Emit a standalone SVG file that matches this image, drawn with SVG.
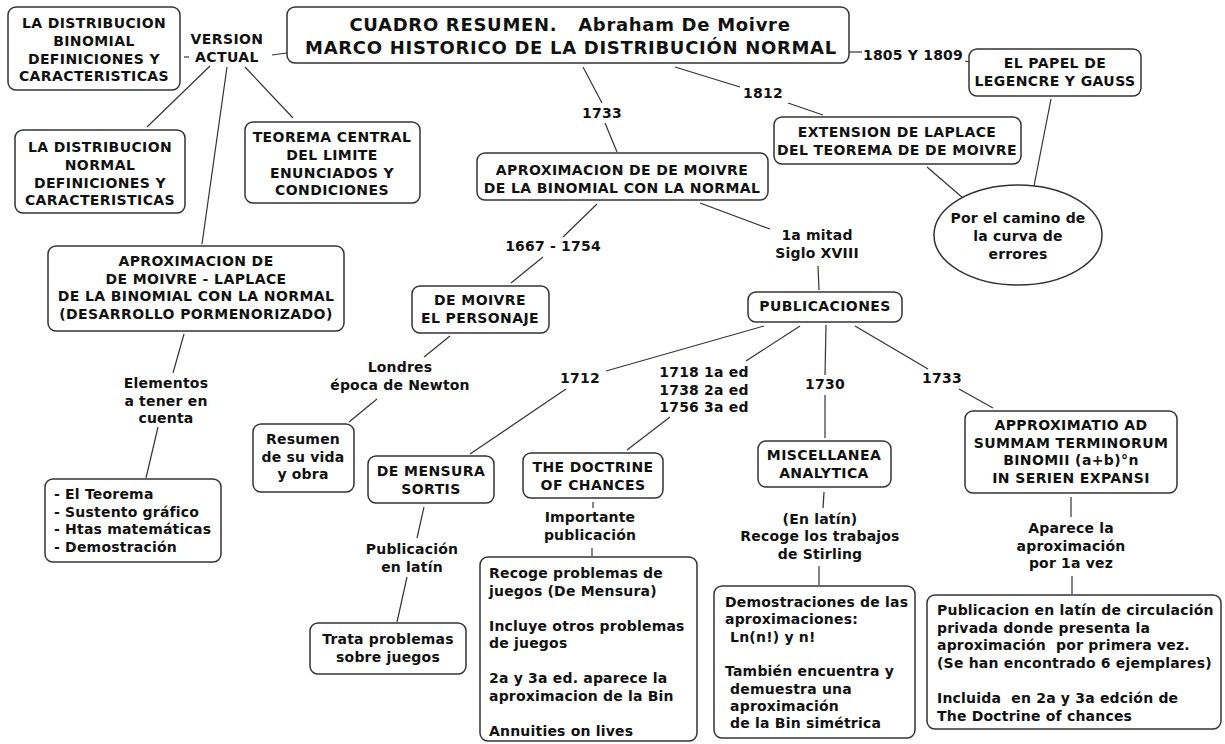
<svg xmlns="http://www.w3.org/2000/svg" width="1225" height="744" viewBox="0 0 1225 744">
<style>
.b{fill:#fff;stroke:#333;stroke-width:1.5}
.t{font-family:"DejaVu Sans",Verdana,sans-serif;font-weight:bold;font-size:14px;letter-spacing:0.2px;fill:#111;text-anchor:middle;white-space:pre}
.u{letter-spacing:0.4px}
.l{text-anchor:start}
.h{font-size:18px;letter-spacing:0.7px}
.c line{stroke:#333;stroke-width:1.2}
</style>
<rect width="1225" height="744" fill="#fff"/>
<g class="c" id="connectors">
<line x1="184" y1="57" x2="189" y2="57"/>
<line x1="272" y1="55" x2="287" y2="53"/>
<line x1="210" y1="66" x2="147" y2="127"/>
<line x1="245" y1="67" x2="293" y2="118"/>
<line x1="227" y1="67" x2="202" y2="244"/>
<line x1="583" y1="67" x2="602" y2="103"/>
<line x1="605" y1="123" x2="617" y2="152"/>
<line x1="675" y1="67" x2="740" y2="87"/>
<line x1="788" y1="103" x2="823" y2="115"/>
<line x1="849" y1="52" x2="862" y2="52"/>
<line x1="965" y1="61" x2="969" y2="62"/>
<line x1="1051" y1="99" x2="1034" y2="186"/>
<line x1="927" y1="167" x2="963" y2="198"/>
<line x1="700" y1="203" x2="770" y2="229"/>
<line x1="818" y1="266" x2="819" y2="290"/>
<line x1="597" y1="204" x2="563" y2="237"/>
<line x1="543" y1="257" x2="511" y2="283"/>
<line x1="450" y1="336" x2="424" y2="357"/>
<line x1="377" y1="399" x2="349" y2="422"/>
<line x1="764" y1="326" x2="606" y2="371"/>
<line x1="566" y1="389" x2="470" y2="454"/>
<line x1="800" y1="326" x2="746" y2="361"/>
<line x1="670" y1="417" x2="627" y2="450"/>
<line x1="826" y1="325" x2="825" y2="375"/>
<line x1="825" y1="395" x2="825" y2="438"/>
<line x1="855" y1="326" x2="928" y2="369"/>
<line x1="959" y1="389" x2="993" y2="408"/>
<line x1="593" y1="502" x2="593" y2="508"/>
<line x1="592" y1="548" x2="592" y2="556"/>
<line x1="424" y1="507" x2="417" y2="538"/>
<line x1="407" y1="577" x2="397" y2="622"/>
<line x1="824" y1="492" x2="823" y2="508"/>
<line x1="819" y1="566" x2="819" y2="585"/>
<line x1="1071" y1="497" x2="1071" y2="517"/>
<line x1="1072" y1="576" x2="1072" y2="594"/>
<line x1="184" y1="334" x2="173" y2="373"/>
<line x1="158" y1="427" x2="146" y2="478"/>
</g>
<g id="title"><rect class="b" x="287" y="7" width="562" height="56" rx="8"/>
<text class="t h" x="570" y="31">CUADRO RESUMEN.   Abraham De Moivre</text>
<text class="t h" x="571" y="54">MARCO HISTORICO DE LA DISTRIBUCIÓN NORMAL</text></g>
<g id="binomial"><rect class="b" x="8" y="7" width="172" height="83" rx="8"/>
<text class="t u" x="94" y="28"><tspan x="94">LA DISTRIBUCION</tspan><tspan x="94" dy="17.8">BINOMIAL</tspan><tspan x="94" dy="17.8">DEFINICIONES Y</tspan><tspan x="94" dy="17.8">CARACTERISTICAS</tspan></text></g>
<g id="version"><text class="t u" x="227" y="44"><tspan x="227">VERSION</tspan><tspan x="227" dy="18">ACTUAL</tspan></text></g>
<g id="normal"><rect class="b" x="15" y="130" width="170" height="83" rx="8"/>
<text class="t u" x="100" y="152"><tspan x="100">LA DISTRIBUCION</tspan><tspan x="100" dy="17.8">NORMAL</tspan><tspan x="100" dy="17.8">DEFINICIONES Y</tspan><tspan x="100" dy="17.8">CARACTERISTICAS</tspan></text></g>
<g id="teorema"><rect class="b" x="245" y="122" width="175" height="81" rx="8"/>
<text class="t u" x="332" y="142"><tspan x="332">TEOREMA CENTRAL</tspan><tspan x="332" dy="17.8">DEL LIMITE</tspan><tspan x="332" dy="17.8">ENUNCIADOS Y</tspan><tspan x="332" dy="17.8">CONDICIONES</tspan></text></g>
<g id="laplace"><rect class="b" x="48" y="246" width="296" height="85" rx="8"/>
<text class="t u" x="196" y="266"><tspan x="196">APROXIMACION DE</tspan><tspan x="196" dy="17.7">DE MOIVRE - LAPLACE</tspan><tspan x="196" dy="17.7">DE LA BINOMIAL CON LA NORMAL</tspan><tspan x="196" dy="17.7">(DESARROLLO PORMENORIZADO)</tspan></text></g>
<g id="elementos"><text class="t" x="166" y="388"><tspan x="166">Elementos</tspan><tspan x="166" dy="17.5">a tener en</tspan><tspan x="166" dy="17.5">cuenta</tspan></text></g>
<g id="lista"><rect class="b" x="45" y="479" width="176" height="83" rx="8"/>
<text class="t l" x="54" y="499"><tspan x="54">- El Teorema</tspan><tspan x="54" dy="17.6">- Sustento gráfico</tspan><tspan x="54" dy="17.6">- Htas matemáticas</tspan><tspan x="54" dy="17.6">- Demostración</tspan></text></g>
<g id="l1733a"><text class="t" x="602" y="118">1733</text></g>
<g id="aproxdm"><rect class="b" x="477" y="153" width="291" height="47" rx="8"/>
<text class="t u" x="622" y="175"><tspan x="622">APROXIMACION DE DE MOIVRE</tspan><tspan x="622" dy="17.5">DE LA BINOMIAL CON LA NORMAL</tspan></text></g>
<g id="l1812"><text class="t" x="763" y="98">1812</text></g>
<g id="extension"><rect class="b" x="774" y="117" width="247" height="47" rx="8"/>
<text class="t u" x="897" y="137"><tspan x="897">EXTENSION DE LAPLACE</tspan><tspan x="897" dy="17.5">DEL TEOREMA DE DE MOIVRE</tspan></text></g>
<g id="l1805"><text class="t" x="913" y="60">1805 Y 1809</text></g>
<g id="papel"><rect class="b" x="969" y="49" width="172" height="47" rx="8"/>
<text class="t u" x="1055" y="68"><tspan x="1055">EL PAPEL DE</tspan><tspan x="1055" dy="17.5">LEGENCRE Y GAUSS</tspan></text></g>
<g id="camino"><ellipse class="b" cx="1018" cy="235" rx="84" ry="50"/>
<text class="t" x="1018" y="223"><tspan x="1018">Por el camino de</tspan><tspan x="1018" dy="18">la curva de</tspan><tspan x="1018" dy="17.5">errores</tspan></text></g>
<g id="mitad"><text class="t" x="817" y="240"><tspan x="817">1a mitad</tspan><tspan x="817" dy="18">Siglo XVIII</tspan></text></g>
<g id="publicaciones"><rect class="b" x="748" y="292" width="154" height="30" rx="8"/>
<text class="t u" x="825" y="311">PUBLICACIONES</text></g>
<g id="l1667"><text class="t" x="553" y="251">1667 - 1754</text></g>
<g id="personaje"><rect class="b" x="412" y="286" width="137" height="47" rx="8"/>
<text class="t u" x="480" y="305"><tspan x="480">DE MOIVRE</tspan><tspan x="480" dy="17.5">EL PERSONAJE</tspan></text></g>
<g id="londres"><text class="t" x="400" y="372"><tspan x="400">Londres</tspan><tspan x="400" dy="18">época de Newton</tspan></text></g>
<g id="resumen"><rect class="b" x="253" y="424" width="101" height="68" rx="8"/>
<text class="t" x="303" y="444"><tspan x="303">Resumen</tspan><tspan x="303" dy="17.7">de su vida</tspan><tspan x="303" dy="17.7">y obra</tspan></text></g>
<g id="l1712"><text class="t" x="580" y="383">1712</text></g>
<g id="mensura"><rect class="b" x="368" y="456" width="126" height="47" rx="8"/>
<text class="t u" x="431" y="476"><tspan x="431">DE MENSURA</tspan><tspan x="431" dy="17.5">SORTIS</tspan></text></g>
<g id="l1718"><text class="t" x="704" y="377"><tspan x="704">1718 1a ed</tspan><tspan x="704" dy="17.5">1738 2a ed</tspan><tspan x="704" dy="17.5">1756 3a ed</tspan></text></g>
<g id="doctrine"><rect class="b" x="523" y="453" width="140" height="45" rx="8"/>
<text class="t u" x="593" y="472"><tspan x="593">THE DOCTRINE</tspan><tspan x="593" dy="17.5">OF CHANCES</tspan></text></g>
<g id="importante"><text class="t" x="590" y="522"><tspan x="590">Importante</tspan><tspan x="590" dy="17.5">publicación</tspan></text></g>
<g id="recoge"><rect class="b" x="480" y="557" width="217" height="184" rx="8"/>
<text class="t l" x="489" y="578"><tspan x="489">Recoge problemas de</tspan><tspan x="489" dy="17.5">juegos (De Mensura)</tspan><tspan x="489" dy="35">Incluye otros problemas</tspan><tspan x="489" dy="17.5">de juegos</tspan><tspan x="489" dy="35">2a y 3a ed. aparece la</tspan><tspan x="489" dy="17.5">aproximacion de la Bin</tspan><tspan x="489" dy="35">Annuities on lives</tspan></text></g>
<g id="latin"><text class="t" x="412" y="554"><tspan x="412">Publicación</tspan><tspan x="412" dy="17.5">en latín</tspan></text></g>
<g id="trata"><rect class="b" x="310" y="623" width="156" height="51" rx="8"/>
<text class="t" x="388" y="644"><tspan x="388">Trata problemas</tspan><tspan x="388" dy="17.5">sobre juegos</tspan></text></g>
<g id="l1730"><text class="t" x="825" y="389">1730</text></g>
<g id="miscellanea"><rect class="b" x="758" y="441" width="133" height="46" rx="8"/>
<text class="t u" x="824" y="460"><tspan x="824">MISCELLANEA</tspan><tspan x="824" dy="17.5">ANALYTICA</tspan></text></g>
<g id="enlatin"><text class="t" x="820" y="524"><tspan x="820">(En latín)</tspan><tspan x="820" dy="17.3">Recoge los trabajos</tspan><tspan x="820" dy="17.3">de Stirling</tspan></text></g>
<g id="demostraciones"><rect class="b" x="714" y="586" width="201" height="152" rx="8"/>
<text class="t l" x="725" y="607"><tspan x="725">Demostraciones de las</tspan><tspan x="725" dy="17.3">aproximaciones:</tspan><tspan x="725" dy="17.3"> Ln(n!) y n!</tspan><tspan x="725" dy="34.6">También encuentra y</tspan><tspan x="725" dy="17.3"> demuestra una</tspan><tspan x="725" dy="17.3"> aproximación</tspan><tspan x="725" dy="17.3"> de la Bin simétrica</tspan></text></g>
<g id="l1733b"><text class="t" x="942" y="383">1733</text></g>
<g id="approximatio"><rect class="b" x="965" y="411" width="212" height="82" rx="8"/>
<text class="t u" x="1071" y="430"><tspan x="1071">APPROXIMATIO AD</tspan><tspan x="1071" dy="17.6">SUMMAM TERMINORUM</tspan><tspan x="1071" dy="17.6">BINOMII (a+b)°n</tspan><tspan x="1071" dy="17.6">IN SERIEN EXPANSI</tspan></text></g>
<g id="aparece"><text class="t" x="1071" y="533"><tspan x="1071">Aparece la</tspan><tspan x="1071" dy="17.5">aproximación</tspan><tspan x="1071" dy="17.5">por 1a vez</tspan></text></g>
<g id="publicacion"><rect class="b" x="927" y="595" width="294" height="134" rx="8"/>
<text class="t l" x="937" y="615"><tspan x="937">Publicacion en latín de circulación</tspan><tspan x="937" dy="17.6">privada donde presenta la</tspan><tspan x="937" dy="17.6">aproximación  por primera vez.</tspan><tspan x="937" dy="17.6">(Se han encontrado 6 ejemplares)</tspan><tspan x="937" dy="35.2">Incluida  en 2a y 3a edción de</tspan><tspan x="937" dy="17.6">The Doctrine of chances</tspan></text></g>
</svg>
